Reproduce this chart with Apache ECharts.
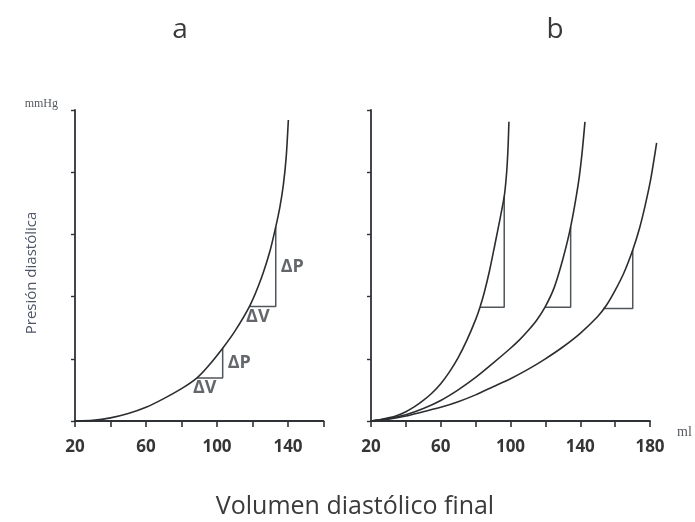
<!DOCTYPE html>
<html><head><meta charset="utf-8">
<script src="https://cdn.jsdelivr.net/npm/echarts@6/dist/echarts.min.js"></script>
<style>html,body{margin:0;padding:0;background:#fff}#c{width:695px;height:522px}</style>
</head><body><div id="c"></div><script>
// Panel a: single pressure-volume curve (volume, pressure)
const curveA = [[20,0],[30,0.01],[40,0.05],[50,0.12],[60,0.22],[70,0.36],[80,0.52],[88.6,0.69],[95,0.88],[103.2,1.17],[110,1.44],[118.6,1.86],[125,2.3],[130,2.75],[133.1,3.12],[135.5,3.45],[137.4,3.8],[139,4.25],[140.2,4.84]];
const triA1 = [[88.6,0.69],[103.2,0.69],[103.2,1.17]];
const triA2 = [[118.6,1.84],[133.1,1.84],[133.1,3.12]];
// Panel b: three curves
const curveB1 = [[20,0],[25,0.02],[30,0.05],[35,0.09],[40,0.15],[45,0.23],[50,0.33],[55,0.45],[60,0.6],[65,0.79],[70,1.02],[75,1.3],[80,1.63],[82.5,1.83],[85,2.07],[88,2.42],[91,2.83],[94,3.25],[96.4,3.61],[97.8,4.0],[98.6,4.4],[99.1,4.81]];
const curveB2 = [[20,0],[30,0.04],[40,0.1],[50,0.2],[60,0.33],[70,0.5],[80,0.7],[90,0.93],[100,1.17],[105,1.3],[110,1.45],[115,1.62],[119.8,1.83],[125,2.14],[130,2.6],[134.5,3.12],[138.9,3.82],[141,4.3],[142.7,4.81]];
const curveB3 = [[20,0],[30,0.03],[40,0.08],[50,0.15],[60,0.22],[70,0.31],[80,0.42],[90,0.55],[100,0.68],[110,0.83],[120,1.0],[130,1.19],[140,1.41],[150,1.68],[155,1.86],[160,2.1],[165,2.38],[170.1,2.75],[174,3.1],[177.1,3.45],[180.5,3.9],[183.8,4.47]];
const triB1 = [[82.5,1.83],[96.4,1.83],[96.4,3.61]];
const triB2 = [[119.8,1.83],[134.5,1.83],[134.5,3.12]];
const triB3 = [[153.2,1.81],[170.1,1.81],[170.1,2.75]];
// axes
const xMinA = 20, xMaxA = 160, xMinB = 20, xMaxB = 180, xStep = 20;
const yMin = 0, yMax = 5, yStep = 1;
const panelTitles = ['a','b'];
const xTitle = 'Volumen diastólico final';
const yTitle = 'Presión diastólica';
const yUnit = 'mmHg', xUnit = 'ml';
const dV = 'ΔV', dP = 'ΔP';

const axisColor = '#2e3236';
const curveColor = '#2b2d30';
const triColor = '#50565a';
const labelFont = '"Open Sans", "DejaVu Sans", sans-serif';

function xAxis(idx, min, max){
  return {type:'value', gridIndex:idx, min:min, max:max, interval:xStep,
    axisLine:{show:true, onZero:false, lineStyle:{color:axisColor, width:1.8}},
    axisTick:{show:true, length:6, lineStyle:{color:axisColor, width:1.6}},
    axisLabel:{show:true, margin:18, color:'#353535', fontSize:17, fontWeight:'bold', fontFamily:labelFont,
      formatter: v => ((v - min) % 40 === 0 ? String(v) : '')},
    splitLine:{show:false}};
}
function yAxis(idx){
  return {type:'value', gridIndex:idx, min:yMin, max:yMax, interval:yStep,
    axisLine:{show:true, onZero:false, lineStyle:{color:axisColor, width:1.8}},
    axisTick:{show:true, length:4, lineStyle:{color:axisColor, width:1.4}},
    axisLabel:{show:false}, splitLine:{show:false}};
}
// Curves drawn through the axes' scales (api.coord), not clipped at the axis end
function curve(idx, data){
  return {type:'custom', xAxisIndex:idx, yAxisIndex:idx, clip:false, silent:true, z:3,
    data:[data[data.length-1]],
    renderItem:function(params, api){
      const pts = data.map(p => api.coord(p));
      return {type:'polyline', shape:{points:pts, smooth:0.25},
        style:{stroke:curveColor, lineWidth:1.6, fill:null}};
    }};
}
function tri(idx, data){
  return {type:'line', xAxisIndex:idx, yAxisIndex:idx, data:data, smooth:false,
    showSymbol:false, symbol:'none', clip:false, lineStyle:{color:triColor, width:1.5}, z:2};
}
function triLabels(t){
  const hMid = [(t[0][0]+t[1][0])/2, t[0][1]];
  const vMid = [t[1][0], (t[1][1]+t[2][1])/2];
  return [
    {type:'scatter', xAxisIndex:0, yAxisIndex:0, symbolSize:0, data:[hMid], silent:true,
      label:{show:true, position:'bottom', distance:1, offset:[-5,0], formatter:dV, color:'#3c4046', fontSize:18, fontWeight:'bold', fontFamily:labelFont}},
    {type:'scatter', xAxisIndex:0, yAxisIndex:0, symbolSize:0, data:[vMid], silent:true,
      label:{show:true, position:'right', distance:5, formatter:dP, color:'#3c4046', fontSize:18, fontWeight:'bold', fontFamily:labelFont}}
  ];
}

const chart = echarts.init(document.getElementById('c'), null, {renderer:'canvas'});
chart.setOption({
  animation:false,
  backgroundColor:'#ffffff',
  grid:[
    {left:75, top:110, width:248.5, height:311, outerBoundsMode:'none', containLabel:false},
    {left:371, top:110, width:279, height:311, outerBoundsMode:'none', containLabel:false}
  ],
  xAxis:[xAxis(0, xMinA, xMaxA), xAxis(1, xMinB, xMaxB)],
  yAxis:[yAxis(0), yAxis(1)],
  series:[
    curve(0, curveA), tri(0, triA1), tri(0, triA2),
    ...triLabels(triA1), ...triLabels(triA2),
    curve(1, curveB1), curve(1, curveB2), curve(1, curveB3),
    tri(1, triB1), tri(1, triB2), tri(1, triB3)
  ],
  graphic:[
    {type:'text', x:180, y:30, style:{text:panelTitles[0], fontSize:28, fontFamily:labelFont, fill:'#3a3a3a', textAlign:'center', textVerticalAlign:'middle'}},
    {type:'text', x:555, y:30, style:{text:panelTitles[1], fontSize:28, fontFamily:labelFont, fill:'#3a3a3a', textAlign:'center', textVerticalAlign:'middle'}},
    {type:'text', x:355, y:507, style:{text:xTitle, fontSize:25, fontFamily:labelFont, fill:'#3a3a3a', textAlign:'center', textVerticalAlign:'middle'}},
    {type:'text', x:32, y:273, rotation:Math.PI/2, style:{text:yTitle, fontSize:15, fontFamily:labelFont, fill:'#4d5566', textAlign:'center', textVerticalAlign:'middle'}},
    {type:'text', x:58, y:104, style:{text:yUnit, fontSize:12, fontFamily:'"Liberation Serif", serif', fill:'#555a60', textAlign:'right', textVerticalAlign:'middle'}},
    {type:'text', x:677, y:432, style:{text:xUnit, fontSize:14, fontFamily:'"Liberation Serif", serif', fill:'#555a60', textAlign:'left', textVerticalAlign:'middle'}}
  ]
});
</script></body></html>
